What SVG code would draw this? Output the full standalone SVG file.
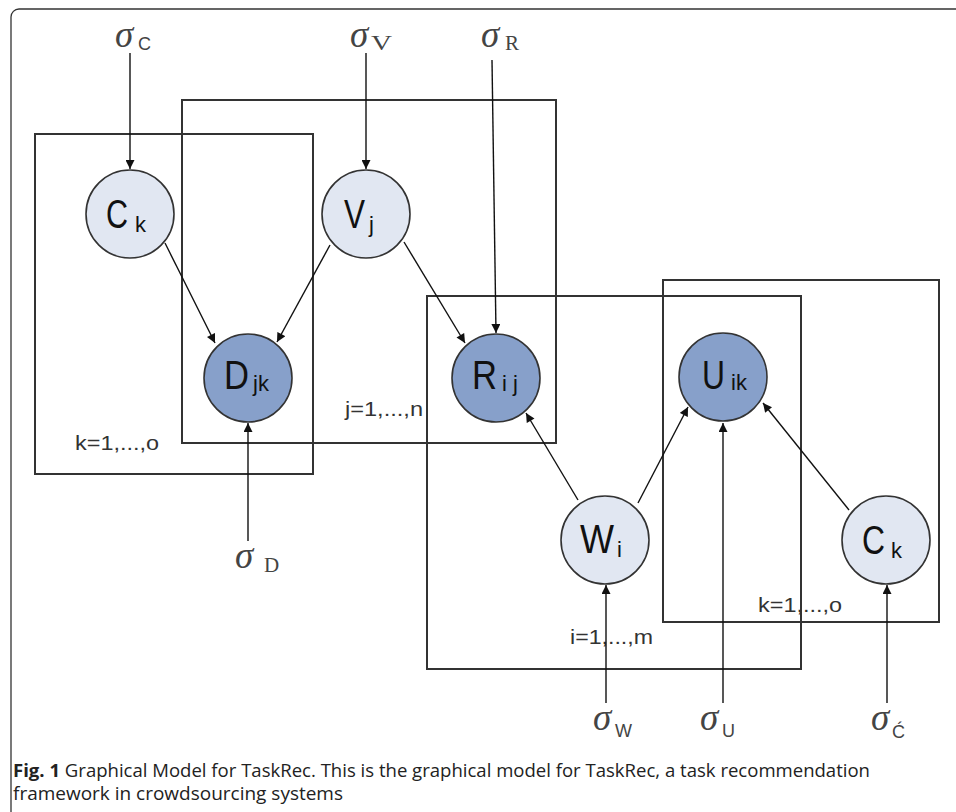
<svg xmlns="http://www.w3.org/2000/svg" width="956" height="812" viewBox="0 0 956 812">
<defs>
<marker id="ah" viewBox="0 0 10 10" refX="10" refY="5" markerWidth="10" markerHeight="9" markerUnits="userSpaceOnUse" orient="auto">
<path d="M0,0 L10,5 L0,10 z" fill="#111"/>
</marker>
</defs>
<style>
.plate{fill:none;stroke:#333;stroke-width:2}
.light{fill:#e1e7f2;stroke:#333;stroke-width:1.6}
.dark{fill:#87a0ca;stroke:#333;stroke-width:1.6}
.big{font-family:"Liberation Sans",Arial,sans-serif;fill:#111;font-size:40px}
.sub{font-family:"Liberation Sans",Arial,sans-serif;fill:#111;font-size:22px}
.sig{font-family:"Liberation Serif","Times New Roman",serif;font-style:italic;font-size:37px;fill:#444}
.sserif{font-family:"Liberation Serif","Times New Roman",serif;font-size:21px;fill:#444}
.ssans{font-family:"Liberation Sans",Arial,sans-serif;font-size:18px;fill:#444}
.pl{font-family:"Liberation Sans",Arial,sans-serif;font-size:20px;fill:#333}
.edge{stroke:#111;stroke-width:1.4;fill:none;marker-end:url(#ah)}
.cap{font-family:"Open Sans","Liberation Sans",sans-serif;font-size:18px;fill:#222}
</style>
<rect width="956" height="812" fill="#fff"/>
<rect x="11" y="9" width="970" height="830" rx="8" fill="none" stroke="#333" stroke-width="1.3"/>

<g id="plates">
<rect class="plate" x="35" y="134" width="278" height="340"/>
<rect class="plate" x="182" y="100" width="374" height="343"/>
<rect class="plate" x="427" y="296" width="374" height="373"/>
<rect class="plate" x="663" y="280" width="276" height="342"/>
<text class="pl" x="75" y="450" textLength="84" lengthAdjust="spacingAndGlyphs">k=1,...,o</text>
<text class="pl" x="345" y="416" textLength="78" lengthAdjust="spacingAndGlyphs">j=1,...,n</text>
<text class="pl" x="570" y="644" textLength="83" lengthAdjust="spacingAndGlyphs">i=1,...,m</text>
<text class="pl" x="758" y="612" textLength="84" lengthAdjust="spacingAndGlyphs">k=1,...,o</text>
</g>

<g id="connectors">
<line class="edge" x1="130" y1="53" x2="130" y2="169"/>
<line class="edge" x1="366" y1="53" x2="366" y2="169"/>
<line class="edge" x1="492" y1="60" x2="496" y2="333"/>
<line class="edge" x1="248" y1="541" x2="248" y2="423"/>
<line class="edge" x1="606" y1="703" x2="606" y2="585"/>
<line class="edge" x1="723" y1="703" x2="723" y2="423"/>
<line class="edge" x1="887" y1="703" x2="887" y2="585"/>
<line class="edge" x1="165" y1="243" x2="215" y2="343"/>
<line class="edge" x1="330" y1="245" x2="277" y2="342"/>
<line class="edge" x1="404" y1="242" x2="465" y2="343"/>
<line class="edge" x1="578" y1="500" x2="526" y2="413"/>
<line class="edge" x1="638" y1="503" x2="688" y2="407"/>
<line class="edge" x1="849" y1="510" x2="763" y2="403"/>
</g>

<g id="Ck1"><circle class="light" cx="130" cy="214" r="44"/><text class="big" x="106" y="228" textLength="22" lengthAdjust="spacingAndGlyphs">C</text><text class="sub" x="135" y="232">k</text></g>
<g id="Vj"><circle class="light" cx="366" cy="214" r="44"/><text class="big" x="344" y="228" textLength="21" lengthAdjust="spacingAndGlyphs">V</text><text class="sub" x="369" y="232">j</text></g>
<g id="Djk"><circle class="dark" cx="248" cy="378" r="44"/><text class="big" x="224" y="389" textLength="25" lengthAdjust="spacingAndGlyphs">D</text><text class="sub" x="253" y="391">jk</text></g>
<g id="Rij"><circle class="dark" cx="496" cy="378" r="44"/><text class="big" x="472" y="389" textLength="25" lengthAdjust="spacingAndGlyphs">R</text><text class="sub" x="502" y="391">i j</text></g>
<g id="Uik"><circle class="dark" cx="723" cy="377" r="44"/><text class="big" x="702" y="389" textLength="23" lengthAdjust="spacingAndGlyphs">U</text><text class="sub" x="731" y="390">ik</text></g>
<g id="Wi"><circle class="light" cx="605" cy="540" r="44"/><text class="big" x="580" y="553" textLength="34" lengthAdjust="spacingAndGlyphs">W</text><text class="sub" x="617" y="557">i</text></g>
<g id="Ck2"><circle class="light" cx="886" cy="540" r="44"/><text class="big" x="862" y="554" textLength="23" lengthAdjust="spacingAndGlyphs">C</text><text class="sub" x="891" y="558">k</text></g>

<g id="sigC"><text class="sig" x="115" y="47">σ</text><text class="ssans" x="138" y="50">C</text></g>
<g id="sigV"><text class="sig" x="350" y="47">σ</text><text class="sserif" x="371" y="50" textLength="21" lengthAdjust="spacingAndGlyphs">V</text></g>
<g id="sigR"><text class="sig" x="481" y="47">σ</text><text class="sserif" x="505" y="50">R</text></g>
<g id="sigD"><text class="sig" x="235" y="568">σ</text><text class="sserif" x="264" y="572">D</text></g>
<g id="sigW"><text class="sig" x="593" y="730">σ</text><text class="ssans" x="615" y="737">W</text></g>
<g id="sigU"><text class="sig" x="700" y="730">σ</text><text class="ssans" x="722" y="737">U</text></g>
<g id="sigC2"><text class="sig" x="871" y="730">σ</text><text class="ssans" x="892" y="738">Ć</text></g>

<g id="caption">
<text class="cap" x="13" y="777" textLength="857" lengthAdjust="spacingAndGlyphs"><tspan font-weight="bold">Fig. 1</tspan>  Graphical Model for TaskRec. This is the graphical model for TaskRec, a task recommendation</text>
<text class="cap" x="13" y="800" textLength="330" lengthAdjust="spacingAndGlyphs">framework in crowdsourcing systems</text>
</g>
</svg>
